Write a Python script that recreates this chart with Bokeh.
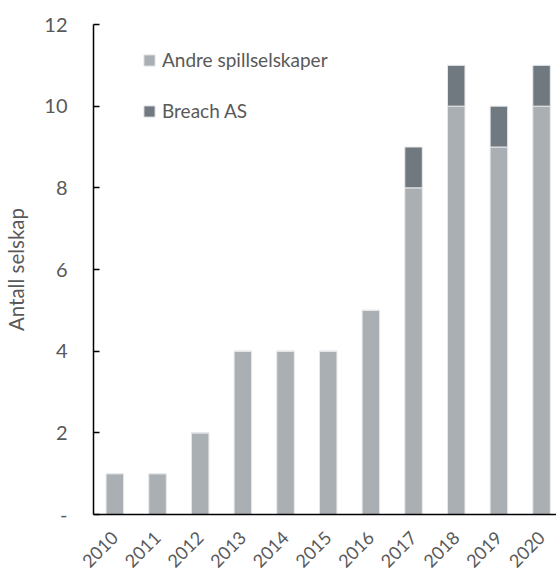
import math
from bokeh.plotting import figure
from bokeh.models import ColumnDataSource, Legend, LegendItem, FixedTicker, Range1d
from bokeh.embed import file_html
from bokeh.resources import INLINE

years = ["2010", "2011", "2012", "2013", "2014", "2015", "2016", "2017", "2018", "2019", "2020"]
andre = [1, 1, 2, 4, 4, 4, 5, 8, 10, 9, 10]
breach = [0, 0, 0, 0, 0, 0, 0, 1, 1, 1, 1]
y_ticks = [0, 2, 4, 6, 8, 10, 12]
y_tick_labels = ["-", "2", "4", "6", "8", "10", "12"]

FONT = "Lato"
TXT = "#595959"
C_ANDRE = "#AAAFB4"
C_BREACH = "#707880"

x = list(range(len(years)))
src = ColumnDataSource(dict(
    x=x,
    andre=andre,
    breach=breach,
    top_total=[a + b for a, b in zip(andre, breach)],
))

p = figure(width=556, height=576, output_backend="svg", toolbar_location=None,
           x_range=Range1d(-0.5, 10.35), y_range=Range1d(0, 12),
           min_border_left=93, min_border_top=24, min_border_bottom=62, min_border_right=0)
p.outline_line_color = None
p.xgrid.visible = False
p.ygrid.visible = False
p.background_fill_color = "white"
p.border_fill_color = "white"

r1 = p.vbar(x="x", bottom=0, top="andre", width=0.41, source=src,
            fill_color=C_ANDRE, line_color="#E6E8EA", line_width=1)
r2 = p.vbar(x="x", bottom="andre", top="top_total", width=0.41, source=src,
            fill_color=C_BREACH, line_color="#E6E8EA", line_width=1)

# y axis
p.yaxis.ticker = FixedTicker(ticks=y_ticks)
p.yaxis.major_label_overrides = {t: l for t, l in zip(y_ticks, y_tick_labels)}
p.yaxis.major_tick_in = 6
p.yaxis.major_tick_out = 0
p.yaxis.minor_tick_line_color = None
p.yaxis.axis_line_color = "black"
p.yaxis.axis_line_width = 1.5
p.yaxis.major_tick_line_color = "black"
p.yaxis.major_tick_line_width = 1.5
p.yaxis.major_label_text_font = FONT
p.yaxis.major_label_text_font_size = "20px"
p.yaxis.major_label_text_color = TXT
p.yaxis.major_label_standoff = 26
p.yaxis.axis_label = "Antall selskap"
p.yaxis.axis_label_text_font = FONT
p.yaxis.axis_label_text_font_size = "20.5px"
p.yaxis.axis_label_text_font_style = "normal"
p.yaxis.axis_label_text_color = TXT
p.yaxis.axis_label_standoff = 13

# x axis
p.xaxis.ticker = FixedTicker(ticks=x)
p.xaxis.major_label_overrides = {i: y for i, y in zip(x, years)}
p.xaxis.major_tick_line_color = None
p.xaxis.minor_tick_line_color = None
p.xaxis.axis_line_color = "black"
p.xaxis.axis_line_width = 1.5
p.xaxis.major_label_orientation = math.pi / 4
p.xaxis.major_label_text_font = FONT
p.xaxis.major_label_text_font_size = "18px"
p.xaxis.major_label_text_color = TXT
p.xaxis.major_label_standoff = 14

legend = Legend(items=[LegendItem(label="Andre spillselskaper", renderers=[r1]),
                       LegendItem(label="Breach AS", renderers=[r2])],
                location=(49, 392), orientation="vertical")
legend.glyph_width = 14
legend.glyph_height = 14
legend.label_standoff = 6
legend.spacing = 28
legend.padding = 0
legend.margin = 0
legend.border_line_color = None
legend.background_fill_alpha = 0
legend.label_text_font = FONT
legend.label_text_font_size = "19px"
legend.label_text_color = TXT
p.add_layout(legend)

open("out.html", "w").write(file_html(p, INLINE))
